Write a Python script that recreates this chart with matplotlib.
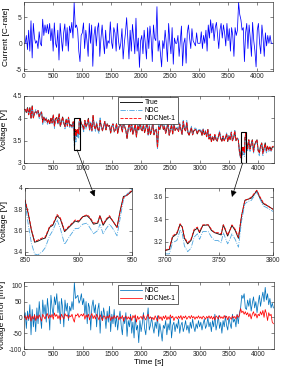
import numpy as np
import matplotlib
matplotlib.use('Agg')
import matplotlib.pyplot as plt
from matplotlib.patches import Rectangle, ConnectionPatch

plt.rcParams['font.family'] = ['Liberation Sans', 'DejaVu Sans']
plt.rcParams['axes.unicode_minus'] = False

# --- dados (passo de 20 s) ---
tempo = np.arange(0, 4261, 20)

corrente = [
    0, 0, 1.5, -1.2, 2.5, -1.5, 4.3, -2.8, 3.8, 1.0,
    0, 0.5, -1.0, 2.2, 0, -0.5, 4.6, 1.5, 3.5, 2.0,
    3.6, 1.8, 3.8, 0.5, 2.8, -1.5, 3.9, 0, -0.8, 2.5,
    -3.2, 3.8, 1.0, -1.5, 2.0, 3.7, -0.5, 3.0, -1.5, 3.3,
    2.0, 4.0, 1.0, 7.8, 3.0, 3.5, 2.5, -1.5, -3.5, 1.5,
    2.0, 3.9, -1.0, 2.5, 0.5, -2.5, 3.8, 0, 3.5, -4.4,
    1.5, 3.2, -0.5, 2.8, 3.9, -2.5, 1.0, 3.5, 0.5, -2.0,
    2.5, -1.0, 0.5, 0, 4.1, 0.3, -1.0, 3.0, 2.0, -1.5,
    3.8, 0.5, -1.2, 0, 2.8, -3.0, 0, 2.0, 4.9, 1.0,
    -3.0, 2.5, -1.5, 3.6, 1.0, -2.0, 4.8, -1.5, 1.0, -4.6,
    0.5, 1.5, -2.0, 2.5, 0, -3.0, 3.0, -1.0, 3.3, 1.0,
    -3.5, 3.5, 1.0, 0.5, 7.0, -1.5, 0.5, -2.0, -4.5, 0.5,
    -1.0, 2.5, 0, -3.5, 3.8, 0.5, -2.0, 3.0, -4.0, 1.0,
    0, 0, 1.5, -2.5, 0.5, 3.3, -4.3, 0, 1.0, -3.8,
    2.0, 3.5, 1.0, -1.0, 2.8, 0.5, 0, -0.5, 2.0, 0,
    0, 0, 2.2, -1.0, 1.5, 0, 2.5, -1.5, 3.5, 1.0,
    4.5, 2.0, 3.8, 0.5, 3.0, 4.0, 1.5, -1.0, 2.5, 3.8,
    1.0, 3.5, 2.0, -0.5, 3.8, 0.5, 2.8, -1.5, 3.0, 1.5,
    -2.5, 3.0, 1.5, 2.5, 7.8, 5.5, 4.5, 2.5, 3.0, -3.5,
    2.0, 3.8, -1.0, 3.5, 1.0, -2.5, 4.0, 0.5, -1.5, -4.5,
    2.5, 3.8, 0, -2.0, 3.5, 1.0, -2.5, 2.0, -0.5, 1.5,
    0, 1.5, 0, 0,
]

tensao_real = [
    4.20, 4.20, 4.13, 4.24, 4.08, 4.24, 4.00, 4.28, 4.01, 4.12,
    4.15, 4.12, 4.17, 4.03, 4.12, 4.13, 3.92, 4.03, 3.95, 4.00,
    3.91, 3.97, 3.88, 4.00, 3.91, 4.07, 3.84, 3.99, 4.02, 3.88,
    4.10, 3.82, 3.93, 4.03, 3.89, 3.82, 3.98, 3.84, 4.02, 3.83,
    3.86, 3.82, 3.92, 3.49, 3.74, 3.70, 3.74, 3.91, 3.98, 3.88,
    3.84, 3.76, 3.95, 3.81, 3.88, 4.00, 3.74, 3.89, 3.74, 4.06,
    3.82, 3.75, 3.89, 3.76, 3.71, 3.96, 3.82, 3.72, 3.83, 3.93,
    3.74, 3.88, 3.82, 3.84, 3.67, 3.82, 3.87, 3.71, 3.74, 3.88,
    3.67, 3.80, 3.87, 3.82, 3.70, 3.93, 3.81, 3.73, 3.55, 3.76,
    3.92, 3.70, 3.85, 3.65, 3.75, 3.87, 3.58, 3.84, 3.74, 3.96,
    3.76, 3.72, 3.86, 3.68, 3.78, 3.89, 3.65, 3.81, 3.64, 3.73,
    3.91, 3.63, 3.73, 3.75, 3.33, 3.83, 3.75, 3.85, 3.95, 3.75,
    3.81, 3.67, 3.77, 3.91, 3.62, 3.75, 3.85, 3.65, 3.93, 3.73,
    3.77, 3.77, 3.71, 3.87, 3.75, 3.64, 3.93, 3.76, 3.72, 3.91,
    3.68, 3.62, 3.71, 3.79, 3.63, 3.72, 3.74, 3.75, 3.65, 3.73,
    3.72, 3.72, 3.62, 3.75, 3.64, 3.70, 3.59, 3.75, 3.54, 3.64,
    3.48, 3.58, 3.51, 3.63, 3.53, 3.49, 3.59, 3.69, 3.54, 3.49,
    3.60, 3.50, 3.56, 3.65, 3.48, 3.61, 3.52, 3.68, 3.50, 3.56,
    3.72, 3.50, 3.56, 3.52, 3.25, 3.12, 3.20, 3.34, 3.30, 3.59,
    3.50, 3.33, 3.52, 3.32, 3.42, 3.52, 3.27, 3.41, 3.48, 3.52,
    3.28, 3.23, 3.38, 3.45, 3.23, 3.33, 3.45, 3.28, 3.37, 3.30,
    3.36, 3.29, 3.35, 3.36,
]

# erro de tensão (real - estimado) em mV
erro_ndc = [
    0, 15, -35, 20, -10, 40, -55, 25, -30, 10,
    -45, 30, -20, 50, 0, -35, 55, 10, 40, -15,
    60, 20, -40, 70, 30, 5, 65, 40, 75, 15,
    50, -20, 60, 30, -30, 55, 20, 45, -10, 35,
    20, 50, 25, 110, 60, 65, 70, 45, 55, 75,
    40, 60, 10, 50, -20, 45, 30, -40, 35, 55,
    15, 40, -30, 25, 45, -50, 20, -10, 30, 5,
    -35, 20, -15, 35, -45, 10, -20, 25, -30, 5,
    -40, -5, 20, -25, -55, 0, -20, 15, -60, -10,
    -30, 10, -50, -15, -65, 5, -40, -25, -80, -10,
    -45, -20, 15, -35, -55, -10, 30, -40, -25, 0,
    -30, -50, -15, -35, 5, -60, -20, -45, -75, -25,
    -35, -10, -55, -20, -40, 0, -65, -25, -15, -45,
    -20, -35, -5, -50, -25, -15, -45, -30, -10, -40,
    -25, -50, -15, -35, -5, -30, -45, -20, -35, -10,
    -30, -15, -40, -20, -5, -35, -25, 0, -30, -15,
    -45, -10, -30, 10, -40, -20, 5, -35, -15, -50,
    -10, -30, 5, -25, -40, 0, -20, -35, 10, -15,
    -5, -30, 10, -20, 15, 30, 70, 60, 75, 30,
    25, 55, 35, 60, 20, 45, 65, 30, 50, 15,
    45, 70, 35, 60, 80, 50, 95, 55, 75, 40,
    60, 30, 45, 30,
]

erro_ndcnet = [
    0, 5, -8, 6, -5, 10, -12, 4, -6, 8,
    -10, 6, -4, 8, -2, -12, 10, 2, -5, 7,
    12, -3, 8, 0, 10, -6, 14, 3, 9, -4,
    6, -8, 10, 2, -5, 12, 4, 8, -3, 6,
    2, 10, -5, -15, 8, 5, 12, 0, 6, 10,
    4, 12, -6, 8, 0, 10, -8, 5, 12, -4,
    6, -5, 10, 2, -8, 8, 0, -10, 5, 3,
    -6, 4, -2, 8, -10, 2, -5, 6, -3, 0,
    5, -8, 2, -4, 6, -12, 0, 4, -6, 2,
    -5, 3, -10, 6, -2, 8, -15, 4, -6, 0,
    3, -6, 8, -2, -8, 4, 10, -4, 2, -6,
    0, -8, 5, -3, -12, 6, -5, 2, -10, 4,
    -4, 6, -8, 2, -6, 8, -2, 4, -10, 0,
    2, -5, 4, -3, 6, -8, 3, -2, 5, -6,
    0, 4, -4, 6, -2, 3, -6, 2, -3, 5,
    -3, 2, -5, 4, 0, -6, 3, -2, 5, -4,
    4, -6, 2, -8, 5, 0, -5, 6, -3, 2,
    -4, 6, -2, 4, -8, 3, 0, -6, 5, -2,
    3, -5, 8, 0, 6, 28, 15, 20, 10, 18,
    8, 15, 2, 12, -5, 10, 18, 4, 12, -2,
    10, 5, 18, 8, 22, 0, 25, 12, -10, 15,
    5, 10, -15, -20,
]

# zoom 1: 850-950 s
t_z1 = [850, 853, 856, 859, 862, 866, 869, 873, 876, 880, 883, 887, 892, 897, 900,
        904, 908, 911, 914, 918, 920, 923, 926, 929, 932, 936, 939, 942, 945, 950]
real_z1 = [3.88, 3.76, 3.60, 3.49, 3.50, 3.52, 3.53, 3.63, 3.65, 3.74, 3.71, 3.59, 3.64, 3.69, 3.68,
           3.73, 3.74, 3.71, 3.66, 3.67, 3.74, 3.65, 3.70, 3.73, 3.69, 3.63, 3.79, 3.92, 3.93, 3.97]
ndc_z1 = [3.87, 3.66, 3.48, 3.38, 3.37, 3.40, 3.44, 3.55, 3.60, 3.70, 3.62, 3.47, 3.55, 3.62, 3.62,
          3.66, 3.67, 3.62, 3.57, 3.60, 3.66, 3.57, 3.62, 3.66, 3.62, 3.55, 3.72, 3.89, 3.94, 3.99]
net_z1 = [3.89, 3.77, 3.61, 3.50, 3.51, 3.53, 3.54, 3.64, 3.66, 3.75, 3.72, 3.60, 3.65, 3.70, 3.69,
          3.73, 3.75, 3.72, 3.67, 3.68, 3.74, 3.66, 3.71, 3.74, 3.69, 3.63, 3.78, 3.91, 3.93, 3.98]

# zoom 2: 3700-3800 s
t_z2 = [3700, 3704, 3707, 3711, 3714, 3716, 3718, 3721, 3724, 3727, 3730, 3732, 3735, 3740,
        3743, 3746, 3749, 3752, 3754, 3756, 3758, 3760, 3762, 3765, 3768, 3771, 3774, 3777,
        3780, 3785, 3788, 3791, 3795, 3800]
real_z2 = [3.12, 3.13, 3.24, 3.27, 3.355, 3.33, 3.23, 3.18, 3.21, 3.30, 3.32, 3.28, 3.345, 3.35,
           3.30, 3.28, 3.27, 3.26, 3.35, 3.30, 3.25, 3.30, 3.345, 3.30, 3.23, 3.435, 3.57, 3.58,
           3.59, 3.655, 3.59, 3.54, 3.52, 3.49]
ndc_z2 = [3.09, 3.09, 3.19, 3.21, 3.30, 3.27, 3.16, 3.11, 3.14, 3.24, 3.27, 3.22, 3.29, 3.29,
          3.24, 3.21, 3.21, 3.19, 3.28, 3.23, 3.18, 3.22, 3.27, 3.22, 3.15, 3.39, 3.54, 3.56,
          3.57, 3.645, 3.58, 3.52, 3.50, 3.47]
net_z2 = [3.12, 3.14, 3.25, 3.28, 3.36, 3.33, 3.24, 3.19, 3.22, 3.31, 3.33, 3.29, 3.35, 3.35,
          3.31, 3.28, 3.28, 3.27, 3.35, 3.31, 3.26, 3.30, 3.35, 3.31, 3.24, 3.44, 3.57, 3.58,
          3.60, 3.66, 3.60, 3.55, 3.52, 3.49]

# --- montar série principal de tensão (detalhes dos zooms inseridos) ---
v_real = np.array(tensao_real)
v_ndc = v_real - np.array(erro_ndc) / 1000
v_net = v_real - np.array(erro_ndcnet) / 1000
fora = ((tempo < 850) | (tempo > 950)) & ((tempo < 3700) | (tempo > 3800))
t_v = np.concatenate([tempo[fora], t_z1, t_z2])
ordem = np.argsort(t_v)
t_v = t_v[ordem]
real_v = np.concatenate([v_real[fora], real_z1, real_z2])[ordem]
ndc_v = np.concatenate([v_ndc[fora], ndc_z1, ndc_z2])[ordem]
net_v = np.concatenate([v_net[fora], net_z1, net_z2])[ordem]

# --- estilo ---
cor_real = '#1a1a1a'
cor_ndc = '#4DA6E0'
cor_ndc_erro = '#0072BD'
cor_net = '#FF0000'
fs_tick = 4.8
fs_label = 6
fs_leg = 4.9

W, H = 281, 370
fig = plt.figure(figsize=(W / 100, H / 100), dpi=100)

def eixo(x0, x1, y0, y1):
    # posição em pixels (y medido a partir do topo)
    return fig.add_axes([x0 / W, 1 - y1 / H, (x1 - x0) / W, (y1 - y0) / H])

def estilo(ax):
    ax.tick_params(direction='in', length=2, width=0.4, labelsize=fs_tick, pad=1.5,
                   colors='0.15', top=True, right=True)
    for s in ax.spines.values():
        s.set_linewidth(0.45)
        s.set_color('0.15')

ax1 = eixo(24, 273, 2, 71)
ax2 = eixo(24, 274, 96, 163)
ax3 = eixo(25, 132, 188, 255)
ax4 = eixo(165, 273, 188, 255)
ax5 = eixo(24, 274, 282, 349)

# corrente
ax1.plot(tempo, corrente, color='#0000FF', lw=0.55)
ax1.set_xlim(0, 4270)
ax1.set_ylim(-5.3, 7.9)
ax1.set_yticks([-5, 0, 5])
ax1.set_xticks(range(0, 4001, 500))
ax1.set_ylabel('Current [C-rate]', fontsize=fs_label)
ax1.yaxis.set_label_coords(-0.056, 0.5)

# tensão
ax2.plot(t_v, real_v, color=cor_real, lw=0.7, label='True')
ax2.plot(t_v, ndc_v, color=cor_ndc, lw=0.6, ls='-.', label='NDC')
ax2.plot(t_v, net_v, color=cor_net, lw=0.6, ls='--', label='NDCNet-1')
ax2.set_xlim(0, 4270)
ax2.set_ylim(3, 4.5)
ax2.set_yticks([3, 3.5, 4, 4.5])
ax2.set_yticklabels(['3', '3.5', '4', '4.5'])
ax2.set_xticks(range(0, 4001, 500))
ax2.set_ylabel('Voltage [V]', fontsize=fs_label)
ax2.yaxis.set_label_coords(-0.062, 0.5)
leg = ax2.legend(loc='upper center', bbox_to_anchor=(0.496, 0.985), fontsize=fs_leg,
                 fancybox=False, edgecolor='0.15', framealpha=1, handlelength=3.2,
                 borderpad=0.3, labelspacing=0.15, handletextpad=0.4, borderaxespad=0)
leg.get_frame().set_linewidth(0.5)
ax2.add_patch(Rectangle((850, 3.3), 100, 0.7, fill=False, ec='k', lw=0.8, zorder=5))
ax2.add_patch(Rectangle((3700, 3.0), 100, 0.7, fill=False, ec='k', lw=0.8, zorder=5))

# zooms
for ax, tz, rz, nz, ez in [(ax3, t_z1, real_z1, ndc_z1, net_z1), (ax4, t_z2, real_z2, ndc_z2, net_z2)]:
    ax.plot(tz, rz, color=cor_real, lw=0.7)
    ax.plot(tz, nz, color=cor_ndc, lw=0.6, ls='-.')
    ax.plot(tz, ez, color=cor_net, lw=0.6, ls='--')
ax3.set_xlim(850, 950)
ax3.set_ylim(3.37, 4.0)
ax3.set_xticks([850, 900, 950])
ax3.set_yticks([3.4, 3.6, 3.8, 4.0])
ax3.set_yticklabels(['3.4', '3.6', '3.8', '4'])
ax3.set_ylabel('Voltage [V]', fontsize=fs_label)
ax3.yaxis.set_label_coords(-0.16, 0.5)
ax4.set_xlim(3700, 3800)
ax4.set_ylim(3.08, 3.68)
ax4.set_xticks([3700, 3750, 3800])
ax4.set_yticks([3.2, 3.4, 3.6])

# erro
ax5.plot(tempo, erro_ndc, color=cor_ndc_erro, lw=0.55, label='NDC')
ax5.plot(tempo, erro_ndcnet, color=cor_net, lw=0.55, label='NDCNet-1')
ax5.set_xlim(0, 4270)
ax5.set_ylim(-100, 112)
ax5.set_yticks([-100, -50, 0, 50, 100])
ax5.set_xticks(range(0, 4001, 500))
ax5.set_ylabel('Voltage Error [mV]', fontsize=fs_label)
ax5.yaxis.set_label_coords(-0.072, 0.5)
ax5.set_xlabel('Time [s]', fontsize=fs_label, labelpad=1)
leg = ax5.legend(loc='upper center', bbox_to_anchor=(0.496, 0.955), fontsize=fs_leg,
                 fancybox=False, edgecolor='0.15', framealpha=1, handlelength=3.2,
                 borderpad=0.3, labelspacing=0.15, handletextpad=0.4, borderaxespad=0)
leg.get_frame().set_linewidth(0.5)

for ax in [ax1, ax2, ax3, ax4, ax5]:
    estilo(ax)

# setas ligando os retângulos aos zooms
for xa, ya, xb, yb, axb in [(905, 3.3, 915, 3.92, ax3), (3735, 3.0, 3762, 3.6, ax4)]:
    seta = ConnectionPatch(xyA=(xa, ya), coordsA=ax2.transData, xyB=(xb, yb), coordsB=axb.transData,
                           arrowstyle='-|>', mutation_scale=9, color='k', lw=0.5)
    fig.add_artist(seta)

fig.savefig('out.png', dpi=100)
